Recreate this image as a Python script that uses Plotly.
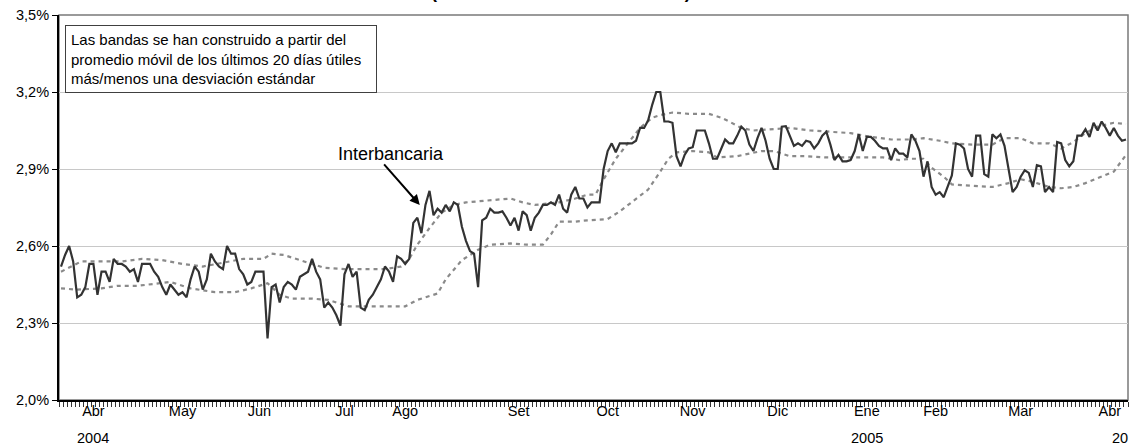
import plotly.graph_objects as go

# Interbank rate (%), one value per business day (mid-March 2004 .. mid-April 2005)
interbancaria = [
    2.52, 2.565, 2.60, 2.54, 2.40, 2.41, 2.44, 2.53, 2.53, 2.41,
    2.50, 2.50, 2.46, 2.55, 2.53, 2.53, 2.52, 2.50, 2.51, 2.46,
    2.53, 2.53, 2.53, 2.50, 2.48, 2.44, 2.41, 2.45, 2.43, 2.41,
    2.42, 2.40, 2.47, 2.52, 2.50, 2.43, 2.47, 2.57, 2.54, 2.52,
    2.51, 2.60, 2.57, 2.57, 2.51, 2.49, 2.45, 2.46, 2.50, 2.50,
    2.50, 2.24, 2.44, 2.45, 2.38, 2.44, 2.46, 2.45, 2.43, 2.48,
    2.49, 2.50, 2.55, 2.50, 2.47, 2.36, 2.38, 2.36, 2.33, 2.29,
    2.49, 2.53, 2.48, 2.50, 2.36, 2.35, 2.39, 2.41, 2.44, 2.47,
    2.52, 2.50, 2.46, 2.56, 2.55,
    2.53, 2.55, 2.69, 2.71, 2.65, 2.76, 2.815, 2.72, 2.745, 2.73,
    2.76, 2.735, 2.77, 2.76, 2.675, 2.62, 2.58, 2.57, 2.44, 2.70,
    2.71, 2.745, 2.73, 2.73, 2.735, 2.71, 2.68, 2.71, 2.66, 2.735,
    2.72, 2.66, 2.71, 2.73, 2.76, 2.76, 2.77, 2.76, 2.80, 2.745,
    2.73, 2.80, 2.83, 2.785, 2.785, 2.75, 2.77, 2.77, 2.77,
    2.90, 2.97, 3.00, 2.965, 3.00, 3.00, 3.00, 3.00, 3.01, 3.06,
    3.06, 3.09, 3.15, 3.20, 3.20, 3.085, 3.085, 3.08, 2.95, 2.91,
    2.955, 2.98, 2.985, 3.05, 3.05, 3.05, 3.00, 2.94, 2.94, 2.98,
    3.015, 3.00, 3.00, 3.03, 3.065, 3.05, 2.995, 2.97,
    3.02, 3.06, 3.01, 2.94, 2.90, 2.90, 3.065, 3.067, 3.03, 2.99,
    3.00, 2.99, 3.01, 3.005, 2.98, 3.00, 3.03, 3.045, 2.995, 2.935,
    2.955, 2.93, 2.93, 2.935, 2.97, 3.035, 2.97, 3.025, 3.025, 3.01,
    2.99, 2.98, 2.98, 2.935, 2.98, 2.96, 2.96, 2.945, 3.035, 3.01,
    2.97, 2.87, 2.93, 2.83, 2.80, 2.81, 2.79, 2.835, 2.875, 3.00,
    2.995, 2.98, 2.90, 2.87, 3.03, 3.03, 2.88, 2.87, 3.035, 3.02,
    3.035, 2.99, 2.90, 2.81, 2.83, 2.87, 2.895, 2.885, 2.83, 2.915,
    2.91, 2.81, 2.83, 2.81, 3.005, 3.00, 2.935, 2.91, 2.93, 3.03,
    3.03, 3.055, 3.025, 3.08, 3.05, 3.085, 3.06, 3.03, 3.06, 3.03,
    3.01, 3.015,
]
dias = list(range(len(interbancaria)))

# Upper band (moving average + 1 std), read at sampled days
banda_sup_dias = [0, 5, 10, 15, 20, 25, 30, 35, 40, 45, 50, 52, 55, 58, 60, 65, 70, 75, 80, 84,
                  86, 88, 91, 94, 97, 100, 104, 108, 111, 114, 117, 120, 123, 127, 130, 132, 134,
                  137, 140, 143, 146, 148, 151, 155, 160, 163, 165, 168, 171, 175, 180, 185, 190,
                  195, 200, 205, 210, 213, 217, 220, 225, 230, 233, 237, 240, 244, 247, 250, 253,
                  256, 260, 263]
banda_sup = [2.50, 2.54, 2.54, 2.54, 2.55, 2.545, 2.53, 2.52, 2.535, 2.55, 2.55, 2.57, 2.565, 2.55,
             2.54, 2.515, 2.51, 2.51, 2.51, 2.52, 2.55, 2.605, 2.67, 2.73, 2.76, 2.77, 2.775, 2.78,
             2.785, 2.77, 2.76, 2.765, 2.77, 2.785, 2.80, 2.80, 2.86, 2.94, 3.00, 3.06, 3.10, 3.11,
             3.12, 3.115, 3.115, 3.10, 3.085, 3.06, 3.05, 3.055, 3.06, 3.05, 3.045, 3.04, 3.025,
             3.015, 3.015, 3.02, 3.01, 3.00, 2.995, 2.995, 3.02, 3.02, 3.00, 3.00, 2.98, 3.005,
             3.04, 3.065, 3.08, 3.075]

# Lower band (moving average - 1 std), read at sampled days
banda_inf_dias = [0, 4, 10, 14, 19, 24, 27, 32, 38, 43, 47, 51, 54, 57, 62, 66, 71, 76, 80, 85,
                  88, 93, 95, 99, 103, 106, 111, 115, 119, 121, 123, 127, 130, 135, 138, 142, 145,
                  148, 150, 152, 156, 160, 162, 167, 170, 173, 176, 180, 184, 189, 195, 200, 203,
                  207, 210, 213, 215, 218, 220, 225, 230, 234, 237, 240, 244, 247, 250, 253, 256,
                  260, 263]
banda_inf = [2.435, 2.43, 2.435, 2.445, 2.445, 2.455, 2.46, 2.435, 2.42, 2.42, 2.435, 2.455, 2.41,
             2.395, 2.395, 2.39, 2.365, 2.365, 2.365, 2.365, 2.39, 2.415, 2.47, 2.545, 2.585,
             2.605, 2.61, 2.605, 2.605, 2.645, 2.695, 2.695, 2.70, 2.705, 2.735, 2.785, 2.82,
             2.89, 2.94, 2.965, 2.97, 2.965, 2.945, 2.95, 2.96, 2.97, 2.97, 2.95, 2.95, 2.945,
             2.945, 2.945, 2.945, 2.935, 2.94, 2.94, 2.905, 2.87, 2.84, 2.835, 2.83, 2.845, 2.86,
             2.85, 2.83, 2.825, 2.83, 2.845, 2.865, 2.89, 2.955]

# Month labels and the day where each label sits
mes_dias = [8, 30, 49, 70, 85, 113, 135, 156, 177, 199, 216, 237, 259]
mes_textos = ["Abr", "May", "Jun", "Jul", "Ago", "Set", "Oct", "Nov", "Dic",
              "Ene", "Feb", "Mar", "Abr"]
anio_dias = [8, 199, 261.5]
anio_textos = ["2004", "2005", "20"]

y_ticks = [2.0, 2.3, 2.6, 2.9, 3.2, 3.5]
y_textos = ["2,0%", "2,3%", "2,6%", "2,9%", "3,2%", "3,5%"]

FONT = "Liberation Sans, Arial, sans-serif"
N = len(interbancaria)

fig = go.Figure()
band_style = dict(color="#8a8a8a", width=2.2, dash="4px,4px")
fig.add_trace(go.Scatter(x=banda_sup_dias, y=banda_sup, mode="lines", line=band_style,
                         showlegend=False, hoverinfo="skip"))
fig.add_trace(go.Scatter(x=banda_inf_dias, y=banda_inf, mode="lines", line=band_style,
                         showlegend=False, hoverinfo="skip"))
fig.add_trace(go.Scatter(x=dias, y=interbancaria, mode="lines",
                         line=dict(color="#333333", width=2.2), showlegend=False))

fig.update_layout(
    width=1129, height=448,
    margin=dict(l=59, r=1, t=15, b=48, autoexpand=False),
    paper_bgcolor="white", plot_bgcolor="white",
    font=dict(family=FONT, size=14, color="black"),
    xaxis=dict(
        range=[-0.5, N - 0.5], showgrid=False, zeroline=False, automargin=False,
        tickmode="array", tickvals=mes_dias, ticktext=mes_textos,
        ticks="", ticklabelstandoff=-3,
        tickfont=dict(size=14.5),
        showline=True, linecolor="black", linewidth=1.5,
        minor=dict(tickmode="linear", tick0=0.5, dtick=1, ticks="outside",
                   ticklen=5, tickwidth=1, tickcolor="#333333", showgrid=False),
    ),
    yaxis=dict(
        range=[2.0, 3.5], tickmode="array", tickvals=y_ticks, ticktext=y_textos,
        showgrid=True, gridcolor="#c8c8c8", gridwidth=1, zeroline=False, automargin=False,
        ticks="outside", ticklen=5, tickcolor="black", tickwidth=1,
        tickfont=dict(size=14.5),
        showline=True, linecolor="black", linewidth=2,
    ),
    shapes=[dict(type="rect", xref="paper", yref="paper", x0=0, x1=1, y0=0, y1=1,
                 line=dict(color="#7a7a7a", width=1.5), layer="below")],
)

# Year labels under the month labels
for d, t in zip(anio_dias, anio_textos):
    fig.add_annotation(text=t, x=d, xref="x", y=0, yref="paper", yanchor="top",
                       yshift=-28, showarrow=False, font=dict(size=14.5, family=FONT))

# Cut-off title at the top
fig.add_annotation(text="<b>(Tasa de interés interbancaria)</b>", xref="paper", yref="paper",
                   x=0.4696, y=1, xanchor="center", yanchor="bottom", yshift=11,
                   showarrow=False, font=dict(size=18, family=FONT))

# Note box
fig.add_annotation(
    text="Las bandas se han construido a partir del<br>promedio móvil de los últimos 20 días útiles<br>más/menos una desviación estándar",
    xref="paper", yref="paper", x=0.0056, y=0.974, xanchor="left", yanchor="top",
    align="left", showarrow=False, font=dict(size=15, family=FONT),
    bordercolor="#404040", borderwidth=1, borderpad=5, bgcolor="white", width=300)

# Series label with arrow
fig.add_annotation(text="Interbancaria", x=81.5, y=2.96, xref="x", yref="y",
                   showarrow=False, font=dict(size=18, family=FONT))
fig.add_annotation(text="", x=88.6, y=2.76, xref="x", yref="y", ax=-37, ay=-42,
                   showarrow=True, arrowhead=2, arrowsize=1, arrowwidth=2, arrowcolor="black")

fig.write_html("out.html", config={"displayModeBar": False},
               post_script="document.body.style.margin='0';document.body.style.overflow='hidden';")
